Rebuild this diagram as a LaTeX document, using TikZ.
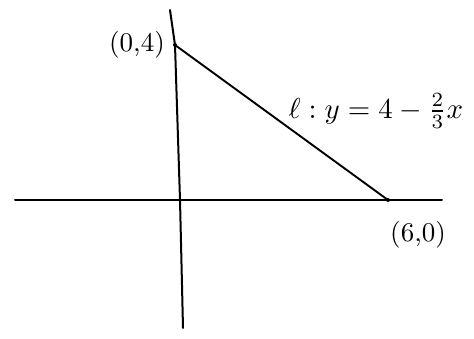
\documentclass[tikz,border=0pt]{standalone}
\begin{document}
\begin{tikzpicture}[x=1pt,y=-1pt,
  axis/.style={line width=2pt, line cap=round},
  graphline/.style={line width=1.9pt, line cap=round},
  hand/.style={inner sep=0pt, font=\normalsize, scale=2.7}]
\useasboundingbox[fill=white] (0,0) rectangle (474,339);
% points
\coordinate (A) at (175,45);
\coordinate (B) at (388,200);
\coordinate (xl) at (15,200);
\coordinate (xr) at (442,200);
\coordinate (yt) at (170,10);
\coordinate (ym) at (180,200);
\coordinate (yb) at (183,328);
% axes
\draw[axis] (xl) -- (xr);
\draw[axis] (yt) -- (A) -- (ym) -- (yb);
% line l
\draw[graphline] (A) -- (B);
\fill (A) circle (2pt);
\fill (B) circle (2pt);
% labels
\node[hand] (lA) at (137,45) {(0,4)};
\node[hand] (lB) at (418,235) {(6,0)};
\node[hand,scale=1.07,anchor=west] (leq) at (288,111) {$\ell : y=4-\frac{2}{3}x$};
\end{tikzpicture}
\end{document}
